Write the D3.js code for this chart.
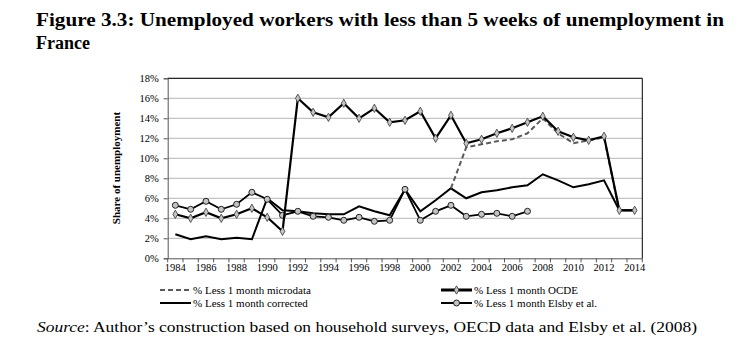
<!DOCTYPE html>
<html><head><meta charset="utf-8">
<script src="https://cdn.jsdelivr.net/npm/d3@7"></script>
<style>body{margin:0;background:#fff;} svg{display:block;}</style>
</head><body>
<script>
const years = d3.range(1984, 2015);
const xTickLabels = d3.range(1984, 2015, 2);
const yTicks = [0, 2, 4, 6, 8, 10, 12, 14, 16, 18];

const microdataYears = [2002,2003,2004,2005,2006,2007,2008,2009,2010,2011,2012,2013];
const microdataVals  = [7.0,11.1,11.4,11.7,11.9,12.5,14.0,12.5,11.5,11.8,12.1,4.7];

const ocdeYears = d3.range(1984, 2015);
const ocdeVals = [4.4,4.0,4.6,4.0,4.4,5.0,4.1,2.7,16.0,14.6,14.1,15.5,14.0,15.0,13.6,13.8,14.7,12.0,14.3,11.5,11.9,12.5,13.0,13.6,14.2,12.7,12.1,11.8,12.2,4.8,4.8];

const correctedYears = d3.range(1984, 2015);
const correctedVals = [2.4,1.9,2.2,1.9,2.05,1.9,6.0,4.8,4.7,4.5,4.4,4.4,5.2,4.7,4.3,6.9,4.7,5.8,7.0,6.0,6.6,6.8,7.1,7.3,8.4,7.8,7.1,7.4,7.8,4.8,4.8];

const elsbyYears = d3.range(1984, 2008);
const elsbyVals = [5.3,4.9,5.7,4.9,5.4,6.6,5.9,4.3,4.7,4.2,4.1,3.8,4.1,3.7,3.8,6.9,3.8,4.7,5.3,4.2,4.4,4.5,4.2,4.7];

const W = 751, H = 358;
const svg = d3.select("body").append("svg").attr("width", W).attr("height", H);
const serif = "'Liberation Serif','DejaVu Serif',serif";

// Title
svg.append("text").attr("x", 36).attr("y", 26)
  .attr("font-family", serif).attr("font-weight", "bold").attr("font-size", 18)
  .attr("textLength", 688).attr("lengthAdjust", "spacingAndGlyphs")
  .text("Figure 3.3: Unemployed workers with less than 5 weeks of unemployment in");
svg.append("text").attr("x", 36).attr("y", 49)
  .attr("font-family", serif).attr("font-weight", "bold").attr("font-size", 18)
  .text("France");

const pL = 167.7, pR = 642.3, pT = 78.3, pB = 258.3;
const x = d3.scaleBand().domain(years).range([pL, pR]);
const xc = d => x(d) + x.bandwidth() / 2;
const y = d3.scaleLinear().domain([0, 18]).range([pB, pT]);

// gridlines
svg.append("g").selectAll("line").data(yTicks.filter(t => t > 0)).join("line")
  .attr("x1", pL).attr("x2", pR).attr("y1", d => y(d)).attr("y2", d => y(d))
  .attr("stroke", "#b4b4b4").attr("stroke-width", 1);

// frame top & right
svg.append("line").attr("x1", pL).attr("x2", pR).attr("y1", pT).attr("y2", pT).attr("stroke", "#000");
svg.append("line").attr("x1", pR).attr("x2", pR).attr("y1", pT).attr("y2", pB).attr("stroke", "#000");

// y axis
const yAxis = d3.axisLeft(y).tickValues(yTicks).tickSize(4).tickFormat(d => d + "%");
const gy = svg.append("g").attr("transform", `translate(${pL},0)`).call(yAxis);
gy.select(".domain").attr("stroke", "#555");
gy.selectAll(".tick line").attr("stroke", "#555");
gy.selectAll("text").attr("font-family", serif).attr("font-size", 10.5).attr("fill", "#000").attr("dx", "-2");

// x axis
const xAxis = d3.axisBottom(x).tickSize(0).tickFormat(d => xTickLabels.includes(d) ? d : "");
const gx = svg.append("g").attr("transform", `translate(0,${pB})`).call(xAxis);
gx.select(".domain").attr("stroke", "#555");
gx.selectAll("text").attr("font-family", serif).attr("font-size", 10.5).attr("fill", "#000").attr("dy", "0.95em");
// boundary ticks
svg.append("g").selectAll("line").data(years.concat([null])).join("line")
  .attr("x1", (d, i) => pL + i * x.bandwidth()).attr("x2", (d, i) => pL + i * x.bandwidth())
  .attr("y1", pB).attr("y2", pB + 4).attr("stroke", "#555");

// y axis title
svg.append("text").attr("transform", `translate(120,168) rotate(-90)`)
  .attr("text-anchor", "middle").attr("font-family", serif).attr("font-weight", "bold")
  .attr("font-size", 11).text("Share of unemployment");

const line = d3.line().x(d => xc(d[0])).y(d => y(d[1]));
const zip = (a, b) => a.map((v, i) => [v, b[i]]);

// corrected
svg.append("path").datum(zip(correctedYears, correctedVals)).attr("d", line)
  .attr("fill", "none").attr("stroke", "#000").attr("stroke-width", 2);
// microdata
svg.append("path").datum(zip(microdataYears, microdataVals)).attr("d", line)
  .attr("fill", "none").attr("stroke", "#5a5a5a").attr("stroke-width", 2).attr("stroke-dasharray", "5,3");
// elsby
const elsby = zip(elsbyYears, elsbyVals);
svg.append("path").datum(elsby).attr("d", line)
  .attr("fill", "none").attr("stroke", "#000").attr("stroke-width", 1.8);
svg.append("g").selectAll("circle").data(elsby).join("circle")
  .attr("cx", d => xc(d[0])).attr("cy", d => y(d[1])).attr("r", 3)
  .attr("fill", "#c4c4c4").attr("stroke", "#222").attr("stroke-width", 1);
// ocde
const ocde = zip(ocdeYears, ocdeVals);
svg.append("path").datum(ocde).attr("d", line)
  .attr("fill", "none").attr("stroke", "#000").attr("stroke-width", 2.2);
const diamond = d3.symbol().type(d3.symbolDiamond).size(20);
svg.append("g").selectAll("path").data(ocde).join("path")
  .attr("d", diamond).attr("transform", d => `translate(${xc(d[0])},${y(d[1])})`)
  .attr("fill", "#c4c4c4").attr("stroke", "#333").attr("stroke-width", 0.8);

// legend
const leg = svg.append("g").attr("font-family", serif).attr("font-size", 11);
function legItem(x0, yy, label, kind) {
  const g = leg.append("g");
  if (kind === "dash") {
    g.append("line").attr("x1", x0).attr("x2", x0 + 31).attr("y1", yy).attr("y2", yy)
      .attr("stroke", "#5a5a5a").attr("stroke-width", 2).attr("stroke-dasharray", "5,3");
  } else {
    g.append("line").attr("x1", x0).attr("x2", x0 + 31).attr("y1", yy).attr("y2", yy)
      .attr("stroke", "#000").attr("stroke-width", kind === "ocde" ? 3 : 2);
  }
  if (kind === "ocde") {
    g.append("path").attr("d", diamond).attr("transform", `translate(${x0 + 15.5},${yy})`)
      .attr("fill", "#c4c4c4").attr("stroke", "#333").attr("stroke-width", 0.8);
  }
  if (kind === "elsby") {
    g.append("circle").attr("cx", x0 + 15.5).attr("cy", yy).attr("r", 3)
      .attr("fill", "#c4c4c4").attr("stroke", "#222");
  }
  g.append("text").attr("x", x0 + 33).attr("y", yy + 4).text(label);
}
legItem(160, 290, "% Less 1 month microdata", "dash");
legItem(160, 303, "% Less 1 month corrected", "solid");
legItem(441, 290, "% Less 1 month OCDE", "ocde");
legItem(441, 303, "% Less 1 month Elsby et al.", "elsby");

// source
const src = svg.append("text").attr("x", 37).attr("y", 332).attr("font-family", serif).attr("font-size", 15)
  .attr("textLength", 660).attr("lengthAdjust", "spacingAndGlyphs");
src.append("tspan").attr("font-style", "italic").text("Source");
src.append("tspan").text(": Author\u2019s construction based on household surveys, OECD data and Elsby et al. (2008)");
</script>
</body></html>
